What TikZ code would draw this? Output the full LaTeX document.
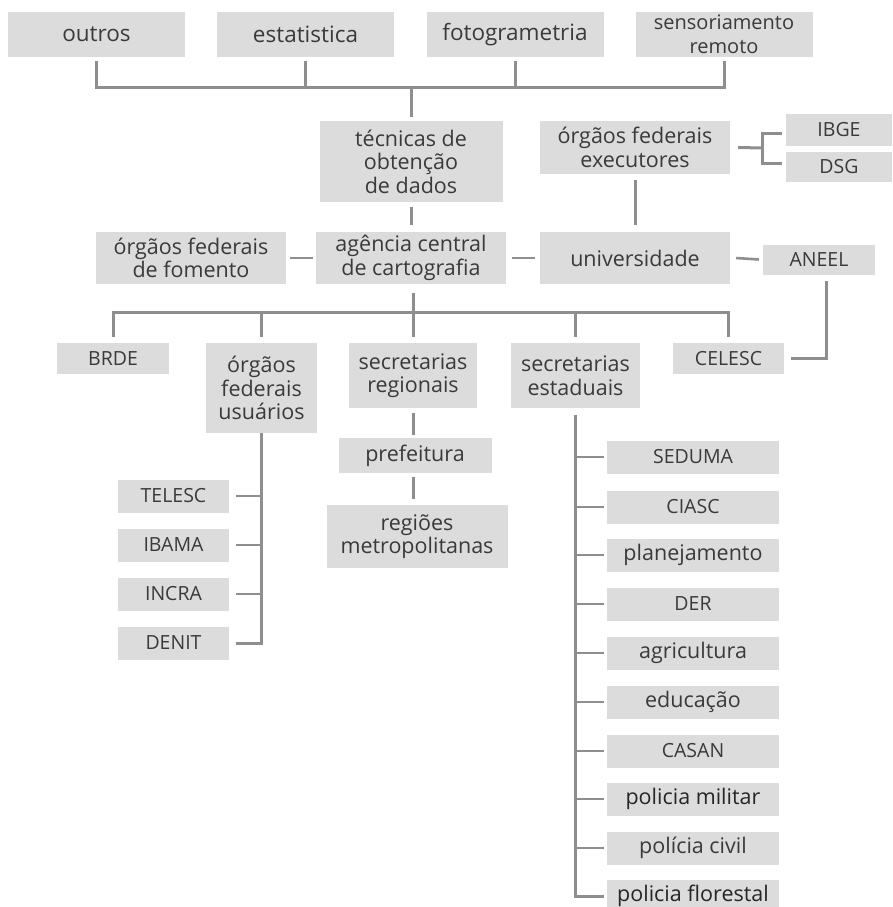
\documentclass[tikz,border=0pt]{standalone}
\usepackage{fontspec}
\setmainfont{Open Sans}
\definecolor{boxgray}{HTML}{DCDCDC}
\definecolor{lngray}{HTML}{8E8E8E}
\definecolor{txt}{HTML}{3A3A3A}
\begin{document}
\begin{tikzpicture}[x=1pt,y=-1pt,
  box/.style={fill=boxgray, inner sep=0pt, align=center, text=txt,
    font=\fontsize{21.5}{23.5}\selectfont},
  topbox/.style={box, minimum width=177pt, minimum height=45pt,
    font=\fontsize{22.5}{24}\selectfont},
  acro/.style={font=\fontsize{19.5}{21}\selectfont},
  estbox/.style={box, minimum width=172pt, minimum height=33pt},
  usrbox/.style={box, acro, minimum width=111pt, minimum height=33pt},
  ln/.style={draw=lngray, line width=3pt},
  tick/.style={draw=lngray, line width=2.6pt}]
\useasboundingbox (0,0) rectangle (892,907);

% top row
\node[topbox] (outros) at (96.5,34.5) {outros};
\node[topbox] (estat) at (305.5,34.5) {estatistica};
\node[topbox] (foto) at (515,34.5) {fotogrametria};
\node[topbox, font=\fontsize{20}{24}\selectfont] (sens) at (724,34.5) {sensoriamento\\remoto};

% second level
\node[box, minimum width=183pt, minimum height=81pt] (tecnicas) at (411,161.5) {técnicas de\\obtenção\\de dados};
\node[box, minimum width=190pt, minimum height=53pt] (exec) at (635,147.5) {órgãos federais\\executores};
\node[box, acro, minimum width=106pt, minimum height=32pt] (ibge) at (839,129.5) {IBGE};
\node[box, acro, minimum width=106pt, minimum height=30pt] (dsg) at (839,167) {DSG};

% third row
\node[box, minimum width=190pt, minimum height=52pt] (fomento) at (191,258) {órgãos federais\\de fomento};
\node[box, minimum width=190pt, minimum height=52pt] (agencia) at (411,258) {agência central\\de cartografia};
\node[box, minimum width=190pt, minimum height=52pt] (univ) at (635,258) {universidade};
\node[box, acro, minimum width=112pt, minimum height=30pt] (aneel) at (819,259.5) {ANEEL};

% fourth row
\node[box, acro, minimum width=112pt, minimum height=31pt] (brde) at (113,358.5) {BRDE};
\node[box, minimum width=111pt, minimum height=90pt] (usuarios) at (261.5,388) {órgãos\\federais\\usuários};
\node[box, minimum width=128pt, minimum height=65pt] (regionais) at (413,375.5) {secretarias\\regionais};
\node[box, minimum width=129pt, minimum height=65pt] (estaduais) at (575.5,375.5) {secretarias\\estaduais};
\node[box, acro, minimum width=111pt, minimum height=31pt] (celesc) at (728.5,358.5) {CELESC};

% regionais branch
\node[box, minimum width=153pt, minimum height=35pt] (prefeitura) at (415,455.5) {prefeitura};
\node[box, minimum width=181pt, minimum height=63pt] (regioes) at (417,536.5) {regiões\\metropolitanas};

% usuarios branch
\node[usrbox] (telesc) at (173.5,496) {TELESC};
\node[usrbox] (ibama) at (173.5,545) {IBAMA};
\node[usrbox] (incra) at (173.5,594) {INCRA};
\node[usrbox] (denit) at (173.5,643) {DENIT};

% estaduais branch
\node[estbox, acro] (seduma) at (693,457) {SEDUMA};
\node[estbox, acro] (ciasc) at (693,507) {CIASC};
\node[estbox] (planej) at (693,555) {planejamento};
\node[estbox, acro] (der) at (693,604) {DER};
\node[estbox] (agric) at (693,653) {agricultura};
\node[estbox] (educ) at (693,702) {educação};
\node[estbox, acro] (casan) at (693,751) {CASAN};
\node[estbox, text=black!85] (pmil) at (693,799) {policia militar};
\node[estbox] (pciv) at (693,848) {polícia civil};
\node[estbox, text=black!85] (pflo) at (693,896) {policia florestal};

% top bus
\coordinate (tb) at (411,87);
\draw[ln] ([yshift=-4pt]outros.south) |- (tb);
\draw[ln] ([yshift=-4pt]sens.south) |- (tb);
\draw[ln] ([yshift=-4pt]estat.south) -- (estat.south |- tb);
\draw[ln] ([yshift=-4pt]foto.south) -- (foto.south |- tb);
\draw[ln] (tb) -- ([yshift=4pt]tecnicas.north);

% executores bracket
\coordinate (br) at (762,148);
\draw[ln] ([xshift=8pt]exec.east) -- (br);
\draw[ln] ([xshift=-4pt,yshift=-4pt]ibge.west) -| (br) |- ([xshift=-4pt,yshift=4pt]dsg.west);

% vertical links
\draw[ln] ([yshift=-5pt]tecnicas.south) -- ([yshift=7pt]agencia.north);
\draw[ln] ([yshift=-6pt]exec.south) -- ([yshift=7pt]univ.north);

% third row links
\draw[tick] ([xshift=4pt]fomento.east) -- ([xshift=-3pt]agencia.west);
\draw[tick] ([xshift=6pt]agencia.east) -- ([xshift=-5pt]univ.west);
\draw[tick] ([xshift=6pt]univ.east) -- ([xshift=-4pt]aneel.west);
\draw[ln] ([xshift=7pt,yshift=-6pt]aneel.south) |- ([xshift=7pt]celesc.east);

% bottom bus
\coordinate (bb) at (413,312);
\draw[ln] ([yshift=-9pt]agencia.south -| bb) -- (bb);
\draw[ln] (bb) -| ([yshift=6pt]brde.north);
\draw[ln] (bb) -| ([yshift=6pt]celesc.north);
\draw[ln] (usuarios.north |- bb) -- ([yshift=6pt]usuarios.north);
\draw[ln] (bb) -- ([yshift=6pt]regionais.north);
\draw[ln] (estaduais.north |- bb) -- ([yshift=6pt]estaduais.north);

% regionais chain
\draw[ln] ([yshift=-5pt]regionais.south) -- ([yshift=3pt]regionais.south |- prefeitura.north);
\draw[ln] ([yshift=-4pt]regionais.south |- prefeitura.south) -- ([yshift=6pt]regionais.south |- regioes.north);

% usuarios branch
\draw[ln] (usuarios.south) -- (usuarios.south |- denit.east) -- ([xshift=7pt]denit.east);
\foreach \n in {telesc,ibama,incra}
  \draw[tick] ([xshift=7pt]\n.east) -- (usuarios.south |- \n.east);

% estaduais branch
\draw[ln] ([yshift=-7pt]estaduais.south) -- (estaduais.south |- pflo.west) -- ([xshift=-3pt]pflo.west);
\foreach \n in {seduma,ciasc,planej,der,agric,educ,casan,pmil,pciv}
  \draw[tick] (estaduais.south |- \n.west) -- ([xshift=-3pt]\n.west);
\end{tikzpicture}
\end{document}
